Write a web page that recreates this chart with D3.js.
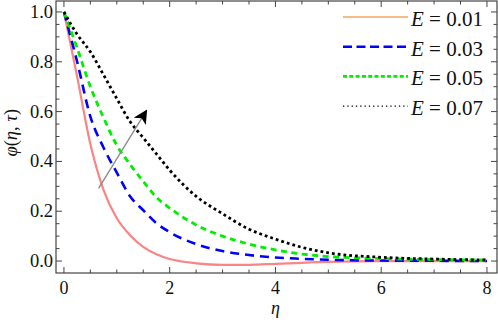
<!DOCTYPE html>
<html>
<head>
<meta charset="utf-8">
<script src="https://cdn.jsdelivr.net/npm/d3@7"></script>
<style>
  body { margin: 0; background: #fff; }
  svg text { font-family: 'Liberation Serif', 'Times New Roman', serif; fill: #111; }
</style>
</head>
<body>
<div id="chart-area"></div>
<script>
// η grid shared by every curve
var eta = [0, 0.25, 0.5, 0.75, 1, 1.25, 1.5, 1.75, 2, 2.5, 3, 3.5, 4, 4.5, 5, 6, 7, 8]

var phiE01 = [1.0, 0.74, 0.47, 0.285, 0.172, 0.104, 0.057, 0.027, 0.008, -0.009, -0.015, -0.015, -0.011, -0.007, -0.003, 0.0, 0.0, 0.0]
var phiE03 = [1.0, 0.80, 0.58, 0.455, 0.355, 0.26, 0.204, 0.152, 0.116, 0.068, 0.04, 0.024, 0.014, 0.009, 0.005, 0.002, 0.001, 0.0]
var phiE05 = [1.0, 0.855, 0.70, 0.575, 0.465, 0.388, 0.32, 0.256, 0.213, 0.145, 0.10, 0.068, 0.045, 0.028, 0.018, 0.01, 0.006, 0.004]
var phiE07 = [1.0, 0.91, 0.84, 0.747, 0.652, 0.56, 0.495, 0.43, 0.365, 0.26, 0.19, 0.128, 0.088, 0.055, 0.033, 0.015, 0.008, 0.004]

var legendLabels = ['0.01', '0.03', '0.05', '0.07']
var xTicks = [0, 2, 4, 6, 8]
var yTicks = [0.0, 0.2, 0.4, 0.6, 0.8, 1.0]

var series = [
  { values: phiE01, color: '#f98585', legendColor: '#f5a45c', width: 2.2, dash: null, legendWidth: 1.6, legendDash: null },
  { values: phiE03, color: '#0000ff', legendColor: '#0000ff', width: 2.6, dash: '9,6', legendWidth: 2.6, legendDash: '9,4.5' },
  { values: phiE05, color: '#00ee00', legendColor: '#00ee00', width: 2.8, dash: '6,4.5', legendWidth: 2.8, legendDash: '4,2.3' },
  { values: phiE07, color: '#000000', legendColor: '#000000', width: 2.8, dash: '2.8,3', legendWidth: 1.3, legendDash: '1.3,3' }
]

var W = 498, H = 328
var frame = { left: 56, right: 497, top: 1, bottom: 273 }

var svg = d3.select('#chart-area').append('svg')
    .attr('width', W)
    .attr('height', H)

var x = d3.scaleLinear().domain([-0.15, 8.19]).range([frame.left, frame.right])
var y = d3.scaleLinear().domain([-0.048, 1.044]).range([frame.bottom, frame.top])

// frame
svg.append('rect')
    .attr('x', frame.left).attr('y', frame.top)
    .attr('width', frame.right - frame.left).attr('height', frame.bottom - frame.top)
    .attr('fill', 'none').attr('stroke', '#444').attr('stroke-width', 1.2)

// ticks, pointing inward on all four sides
var tickG = svg.append('g').attr('stroke', '#444').attr('stroke-width', 1)
d3.range(0, 8.01, 0.5).forEach(v => {
  var major = Math.abs(v % 2) < 1e-9
  var len = major ? 6 : 3.5
  tickG.append('line').attr('x1', x(v)).attr('x2', x(v)).attr('y1', frame.bottom).attr('y2', frame.bottom - len)
  tickG.append('line').attr('x1', x(v)).attr('x2', x(v)).attr('y1', frame.top).attr('y2', frame.top + len)
})
d3.range(0, 1.0001, 0.05).forEach(v => {
  var major = Math.abs(Math.round(v * 100) % 20) < 1e-9
  var len = major ? 6 : 3.5
  tickG.append('line').attr('y1', y(v)).attr('y2', y(v)).attr('x1', frame.left).attr('x2', frame.left + len)
  tickG.append('line').attr('y1', y(v)).attr('y2', y(v)).attr('x1', frame.right).attr('x2', frame.right - len)
})

// tick labels
svg.append('g').selectAll('text').data(xTicks).enter().append('text')
    .attr('x', d => x(d))
    .attr('y', 294)
    .attr('text-anchor', 'middle')
    .attr('font-size', '18px')
    .text(d => d)

svg.append('g').selectAll('text').data(yTicks).enter().append('text')
    .attr('x', 53)
    .attr('y', d => y(d) + 6)
    .attr('text-anchor', 'end')
    .attr('font-size', '18.5px')
    .text(d => d.toFixed(1))

// axis labels
svg.append('text')
    .attr('x', x(4))
    .attr('y', 314)
    .attr('text-anchor', 'middle')
    .attr('font-size', '18px')
    .attr('font-style', 'italic')
    .text('η')

var yLabel = svg.append('text')
    .attr('transform', `translate(17, ${ y(0.515) }) rotate(-90)`)
    .attr('text-anchor', 'middle')
    .attr('font-size', '18.5px')
yLabel.append('tspan').attr('font-style', 'italic').text('φ')
yLabel.append('tspan').text('(')
yLabel.append('tspan').attr('font-style', 'italic').text('η')
yLabel.append('tspan').text(', ')
yLabel.append('tspan').attr('font-style', 'italic').text('τ')
yLabel.append('tspan').text(')')

// curves
var line = d3.line()
    .x((d, i) => x(eta[i]))
    .y(d => y(d))
    .curve(d3.curveMonotoneX)

svg.append('defs').append('clipPath').attr('id', 'clip')
  .append('rect')
    .attr('x', frame.left).attr('y', frame.top)
    .attr('width', frame.right - frame.left).attr('height', frame.bottom - frame.top)

var plot = svg.append('g').attr('clip-path', 'url(#clip)')

series.forEach(s => {
  plot.append('path')
      .datum(s.values)
      .attr('d', line)
      .attr('fill', 'none')
      .attr('stroke', s.color)
      .attr('stroke-width', s.width)
      .attr('stroke-dasharray', s.dash)
})

// arrow showing increase of E
var defs = svg.select('defs')
defs.append('marker')
    .attr('id', 'head')
    .attr('viewBox', '0 0 10 10')
    .attr('refX', 9).attr('refY', 5)
    .attr('markerWidth', 14).attr('markerHeight', 14)
    .attr('markerUnits', 'userSpaceOnUse')
    .attr('orient', 'auto')
  .append('path')
    .attr('d', 'M0,0 L10,5 L0,10 L2.5,5 Z')
    .attr('fill', '#000')

svg.append('line')
    .attr('x1', x(0.656)).attr('y1', y(0.292))
    .attr('x2', x(1.56)).attr('y2', y(0.604))
    .attr('stroke', '#888')
    .attr('stroke-width', 1.3)
    .attr('marker-end', 'url(#head)')

// legend
var legend = svg.append('g')
series.forEach((s, i) => {
  var ly = 17 + i * 29.7
  legend.append('line')
      .attr('x1', 343).attr('x2', 408)
      .attr('y1', ly).attr('y2', ly)
      .attr('stroke', s.legendColor)
      .attr('stroke-width', s.legendWidth)
      .attr('stroke-dasharray', s.legendDash)
  var t = legend.append('text')
      .attr('x', 411)
      .attr('y', ly + 9)
      .attr('font-size', '21px')
  t.append('tspan').attr('font-style', 'italic').text('E')
  t.append('tspan').text(' = ' + legendLabels[i])
})
</script>
</body>
</html>
